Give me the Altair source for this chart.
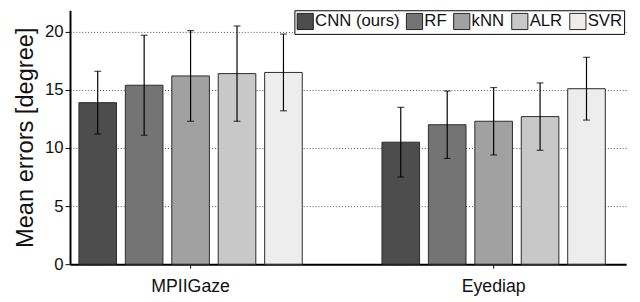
import altair as alt
import pandas as pd

datasets = ["MPIIGaze", "Eyediap"]
methods = ["CNN (ours)", "RF", "kNN", "ALR", "SVR"]
colors = ["#4d4d4d", "#747474", "#a1a1a1", "#c8c8c8", "#ededed"]
mpii_mean = [13.9, 15.4, 16.2, 16.4, 16.5]
mpii_std = [2.7, 4.3, 3.9, 4.1, 3.3]
eyediap_mean = [10.5, 12.0, 12.3, 12.7, 15.1]
eyediap_std = [3.0, 2.9, 2.9, 2.9, 2.7]

rows = []
for ds, means, stds in [("MPIIGaze", mpii_mean, mpii_std), ("Eyediap", eyediap_mean, eyediap_std)]:
    for m, v, s in zip(methods, means, stds):
        rows.append({"dataset": ds, "method": m, "mean": v, "lo": v - s, "hi": v + s})
df = pd.DataFrame(rows)

FONT = "Arial"

x = alt.X(
    "dataset:N",
    sort=datasets,
    scale=alt.Scale(paddingInner=0.263, paddingOuter=0.049, align=0.3),
    axis=alt.Axis(
        title=None, labelAngle=0, labelFontSize=18, labelColor="#111", labelFont=FONT,
        domainColor="black", domainWidth=2, tickColor="black", tickSize=4,
        labelPadding=10, grid=False,
    ),
)
xo = alt.XOffset("method:N", sort=methods, scale=alt.Scale(paddingInner=0.19, paddingOuter=0))
yscale = alt.Scale(domain=[0, 21.85], nice=False)

base = alt.Chart(df)

bars = base.mark_bar(stroke="#2a2a2a", strokeWidth=1).encode(
    x=x,
    xOffset=xo,
    y=alt.Y(
        "mean:Q",
        scale=yscale,
        axis=alt.Axis(
            title="Mean errors [degree]", titleFontSize=24, titleFont=FONT, titleFontWeight="normal",
            titleColor="#111", titlePadding=7,
            values=[0, 5, 10, 15, 20], labelFontSize=17, labelFont=FONT, labelColor="#111",
            labelPadding=2, tickSize=5, tickColor="black", domainColor="black", domainWidth=2,
            grid=True, gridColor="#222", gridDash=[1, 2], gridWidth=0.8,
        ),
    ),
    color=alt.Color(
        "method:N",
        sort=methods,
        scale=alt.Scale(domain=methods, range=colors),
        legend=alt.Legend(
            title=None, orient="none", legendX=228, legendY=0, direction="horizontal",
            columns=5, strokeColor="black", fillColor="white", padding=2,
            symbolType="square", symbolSize=270, symbolStrokeColor="#222", symbolStrokeWidth=1,
            symbolOpacity=1, labelFontSize=17, labelFont=FONT, labelColor="#111",
            labelOffset=1, columnPadding=4, labelLimit=200,
        ),
    ),
)

rules = base.mark_rule(color="black", strokeWidth=1.2).encode(
    x=x, xOffset=xo, y=alt.Y("lo:Q", scale=yscale), y2="hi:Q"
)
cap_hi = base.mark_tick(color="black", thickness=1.2, size=7).encode(
    x=x, xOffset=xo, y=alt.Y("hi:Q", scale=yscale)
)
cap_lo = base.mark_tick(color="black", thickness=1.2, size=7).encode(
    x=x, xOffset=xo, y=alt.Y("lo:Q", scale=yscale)
)

chart = (
    alt.layer(bars, rules, cap_hi, cap_lo)
    .properties(
        width=565, height=258,
        autosize=alt.AutoSizeParams(type="none"),
        padding={"left": 63, "top": 0, "right": 6, "bottom": 30},
        background="white",
    )
    .configure_view(stroke=None)
)

chart.save("out.html", embed_options={"renderer": "svg", "actions": False})
